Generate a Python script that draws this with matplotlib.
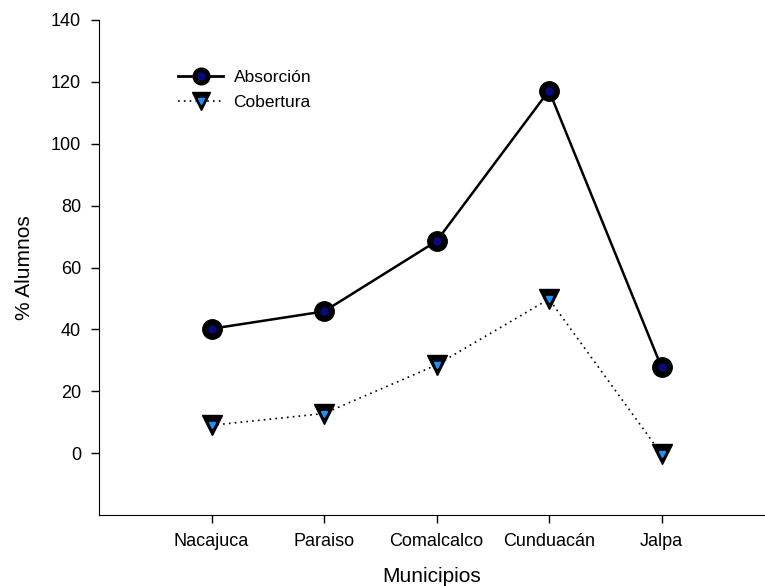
import matplotlib
matplotlib.use("Agg")
import matplotlib.pyplot as plt
from matplotlib.lines import Line2D

plt.rcParams['font.family'] = ['Liberation Sans', 'DejaVu Sans']

municipios = ["Nacajuca", "Paraiso", "Comalcalco", "Cunduacán", "Jalpa"]
absorcion = [40.2, 45.8, 68.5, 117.2, 27.8]
cobertura = [9.0, 12.8, 28.5, 49.8, -0.3]
yticks = [0, 20, 40, 60, 80, 100, 120, 140]

x = list(range(1, len(municipios) + 1))

fig = plt.figure(figsize=(7.65, 5.86), dpi=100)
ax = fig.add_axes([99/765, 1 - 515/586, (765 - 99)/765, (515 - 20)/586])

ax.plot(x, absorcion, color='black', lw=1.8, ls='-', marker='o', ms=14,
        mfc='black', mec='black', zorder=3)
ax.plot(x, absorcion, ls='none', marker='o', ms=5, mfc='#0a0a80', mec='#0a0a80', zorder=4)
ax.plot(x, cobertura, color='black', lw=1.2, ls=(0, (1, 2.5)), marker='v', ms=15,
        mfc='black', mec='black', zorder=3)
ax.plot(x, cobertura, ls='none', marker='v', ms=4, mfc='#1e90ff', mec='#1e90ff', zorder=4)

ax.set_xlim(0, 5.92)
ax.set_ylim(-20, 140)
ax.set_yticks(yticks)
ax.set_xticks(x)
ax.set_xticklabels(municipios)
ax.spines['top'].set_visible(False)
ax.spines['right'].set_visible(False)
ax.tick_params(direction='out', length=6, width=1, labelsize=13, pad=7)
ax.tick_params(axis='x', pad=7)
ax.set_xlabel("Municipios", fontsize=15, labelpad=12)
ax.set_ylabel("% Alumnos", fontsize=15, labelpad=12)

h1 = (Line2D([], [], color='black', lw=2.0, marker='o', ms=12, mfc='black', mec='black'),
      Line2D([], [], ls='none', marker='o', ms=5, mfc='#0a0a80', mec='#0a0a80'))
h2 = (Line2D([], [], color='black', lw=1.2, ls=(0, (1, 2.5)), marker='v', ms=13, mfc='black', mec='black'),
      Line2D([], [], ls='none', marker='v', ms=4, mfc='#1e90ff', mec='#1e90ff'))
ax.legend([h1, h2], ["Absorción", "Cobertura"], loc='upper left',
          bbox_to_anchor=((178 - 99) / 666, (515 - 70) / 495), frameon=False, fontsize=12.5,
          borderaxespad=0, borderpad=0,
          handlelength=2.6, handletextpad=0.6, labelspacing=0.55)

fig.savefig("out.png", dpi=100)
